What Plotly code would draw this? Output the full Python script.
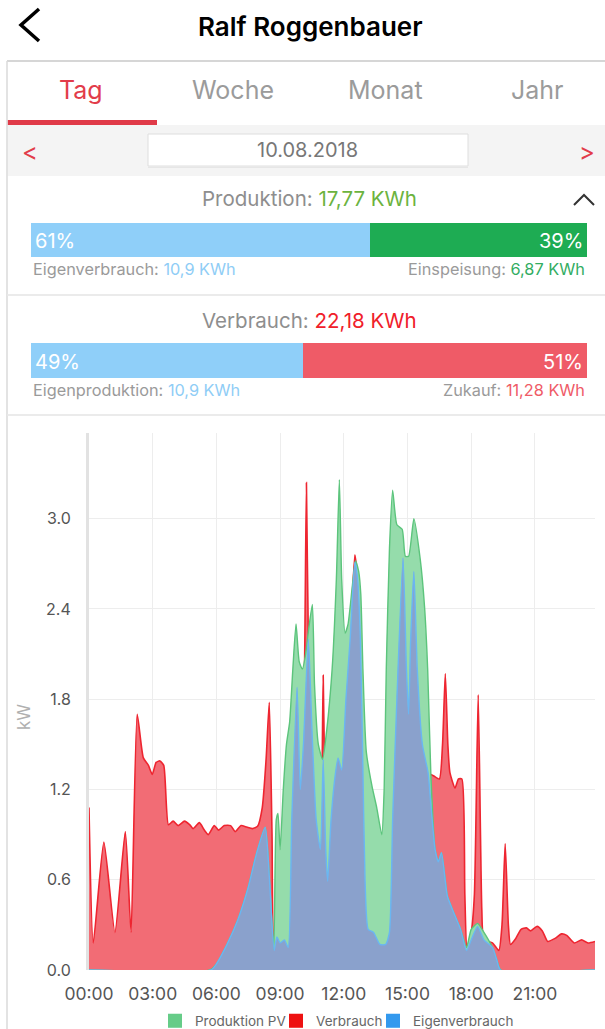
import plotly.graph_objects as go

# ---------------- data ----------------
W, H = 605, 1029
FONT = "Inter, Roboto, Arial, sans-serif"

person_name = "Ralf Roggenbauer"
tabs = ["Tag", "Woche", "Monat", "Jahr"]
date_label = "10.08.2018"

produktion_total = "17,77 KWh"
produktion_split = [61, 39]            # Eigenverbrauch %, Einspeisung %
produktion_parts = ["10,9 KWh", "6,87 KWh"]
verbrauch_total = "22,18 KWh"
verbrauch_split = [49, 51]             # Eigenproduktion %, Zukauf %
verbrauch_parts = ["10,9 KWh", "11,28 KWh"]

tick_hours = [0, 3, 6, 9, 12, 15, 18, 21]
tick_labels = ["00:00", "03:00", "06:00", "09:00", "12:00", "15:00", "18:00", "21:00"]
y_ticks = [0.0, 0.6, 1.2, 1.8, 2.4, 3.0]

legend_names = ["Produktion PV", "Verbrauch", "Eigenverbrauch"]
legend_colors = ["#66cc88", "#ee1111", "#3399ee"]

verbrauch_t = [0, 0.2, 0.7, 1.22, 1.71, 1.98, 2.27, 2.56, 2.8, 2.98, 3.16, 3.34, 3.52, 3.74,
               3.96, 4.2, 4.5, 4.75, 4.9, 5.2, 5.43, 5.62, 5.9, 6.1, 6.37, 6.67, 6.89, 7.16,
               7.43, 7.7, 7.94, 8.16, 8.34, 8.49, 8.62, 8.72, 8.85, 9.0, 9.2, 9.38, 9.55, 9.8,
               9.95, 10.1, 10.24, 10.33, 10.5, 10.7, 10.9, 11.03, 11.15, 11.24, 11.4, 11.6,
               11.73, 11.9, 12.1, 12.3, 12.52, 12.65, 12.78, 12.88, 13.0, 13.15, 13.4, 13.7,
               13.97, 14.15, 14.3, 14.5, 14.79, 14.95, 15.05, 15.15, 15.3, 15.46, 15.7, 15.97,
               16.24, 16.5, 16.65, 16.78, 16.9, 17.0, 17.24, 17.4, 17.56, 17.7, 17.8, 18.0,
               18.15, 18.33, 18.5, 18.6, 19.0, 19.3, 19.45, 19.6, 19.75, 19.85, 20.1, 20.35,
               20.6, 20.8, 21.1, 21.35, 21.6, 21.95, 22.25, 22.5, 22.85, 23.2, 23.5, 23.83]
verbrauch_kw = [1.08, 0.18, 0.85, 0.25, 0.92, 0.25, 1.70, 1.41, 1.36, 1.30, 1.38, 1.39, 1.36, 0.965,
                0.99, 0.96, 0.99, 0.965, 0.94, 0.98, 0.93, 0.90, 0.96, 0.93, 0.96, 0.96, 0.92, 0.96,
                0.95, 0.94, 0.955, 1.08, 1.40, 1.78, 0.9, 0.2, 0.22, 0.18, 0.2, 0.15, 1.0, 1.88,
                1.2, 1.5, 3.24, 2.2, 1.6, 1.0, 0.8, 1.96, 0.8, 0.59, 1.0, 1.3,
                1.41, 1.33, 1.8, 2.2, 2.76, 2.6, 2.2, 1.5, 0.6, 0.27, 0.25, 0.17,
                0.17, 0.25, 1.0, 1.8, 2.74, 2.0, 1.7, 2.2, 2.65, 2.0, 1.5, 1.31,
                1.29, 1.27, 1.5, 1.97, 1.5, 1.31, 1.21, 1.27, 1.27, 0.5, 0.15, 0.25,
                0.5, 1.83, 0.4, 0.2, 0.18, 0.13, 0.3, 0.84, 0.3, 0.17, 0.21, 0.27,
                0.28, 0.26, 0.29, 0.26, 0.19, 0.21, 0.24, 0.23, 0.18, 0.2, 0.18, 0.19]

pv_t = [0, 5.7, 6.0, 6.5, 7.0, 7.5, 7.9, 8.3, 8.5, 8.7, 8.82, 8.9, 9.0, 9.15, 9.3, 9.45, 9.6,
        9.75, 9.9, 10.05, 10.2, 10.33, 10.52, 10.62, 10.8, 11.0, 11.2, 11.45, 11.65, 11.79,
        11.9, 12.06, 12.2, 12.4, 12.55, 12.7, 12.8, 12.9, 13.06, 13.33, 13.55, 13.79, 13.9,
        14.0, 14.15, 14.3, 14.5, 14.75, 14.9, 15.05, 15.3, 15.6, 15.8, 15.95, 16.1, 16.3,
        16.45, 16.6, 16.88, 17.24, 17.5, 17.78, 18.0, 18.3, 18.6, 19.0, 19.2, 19.4, 23.83]
pv_kw = [0, 0, 0.04, 0.17, 0.33, 0.55, 0.78, 0.95, 0.6, 0.13, 1.0, 1.04, 0.8, 1.2, 1.5, 1.65, 2.0,
         2.3, 2.05, 2.0, 2.1, 2.25, 2.43, 1.9, 1.5, 1.4, 1.6, 2.0, 2.6, 3.26,
         2.6, 2.24, 2.3, 2.55, 2.72, 2.65, 2.5, 2.0, 1.45, 1.22, 1.08, 0.9, 1.2,
         2.0, 2.8, 3.19, 2.96, 2.93, 2.75, 2.75, 3.0, 2.73, 2.42, 2.0, 1.3, 0.8,
         0.72, 0.78, 0.49, 0.36, 0.27, 0.15, 0.27, 0.31, 0.25, 0.15, 0.07, 0, 0]

eigen_t = [0, 5.75, 6.0, 6.5, 7.0, 7.5, 7.9, 8.3, 8.5, 8.72, 8.85, 9.0, 9.2, 9.38, 9.55, 9.8,
           9.95, 10.1, 10.33, 10.5, 10.7, 10.9, 11.03, 11.15, 11.24, 11.4, 11.6, 11.73, 11.9,
           12.1, 12.3, 12.52, 12.65, 12.78, 12.88, 13.0, 13.15, 13.4, 13.7, 13.97, 14.15, 14.3,
           14.5, 14.79, 14.95, 15.05, 15.15, 15.3, 15.46, 15.7, 15.97, 16.1, 16.3, 16.45, 16.6,
           16.88, 17.24, 17.5, 17.78, 18.0, 18.3, 18.6, 19.0, 19.2, 19.38, 23.83]
eigen_kw = [0, 0, 0.04, 0.17, 0.33, 0.55, 0.78, 0.95, 0.6, 0.13, 0.22, 0.18, 0.2, 0.15, 1.0, 1.88,
            1.2, 1.5, 2.2, 1.6, 1.0, 0.8, 1.4, 0.8, 0.59, 1.0, 1.3, 1.41, 1.33,
            1.8, 2.2, 2.71, 2.6, 2.2, 1.5, 0.6, 0.27, 0.25, 0.17, 0.17, 0.25, 1.0,
            1.8, 2.74, 2.0, 1.7, 2.2, 2.65, 2.0, 1.5, 1.31, 1.1, 0.8, 0.72, 0.78,
            0.49, 0.36, 0.27, 0.13, 0.2, 0.29, 0.2, 0.15, 0.07, 0, 0]

# ---------------- helpers ----------------
def X(px):
    return px / W

def Y(py):
    return 1 - py / H

RED = "#e23c4a"
GRAY_TXT = "#8e8e8e"

fig = go.Figure()

# ---------------- main area chart ----------------
SM = 0.55
fig.add_trace(go.Scatter(x=verbrauch_t, y=verbrauch_kw, mode="lines", fill="tozeroy",
                         line=dict(color="#ee2530", width=1.6, shape="spline", smoothing=SM),
                         fillcolor="#f26c75", showlegend=False, hoverinfo="skip"))
fig.add_trace(go.Scatter(x=pv_t, y=pv_kw, mode="lines", fill="tozeroy",
                         line=dict(color="#5cc47c", width=1.4, shape="spline", smoothing=SM),
                         fillcolor="#95dcab", showlegend=False, hoverinfo="skip"))
fig.add_trace(go.Scatter(x=eigen_t, y=eigen_kw, mode="lines", fill="tozeroy",
                         line=dict(color="#6ab6f2", width=1.4, shape="spline", smoothing=SM),
                         fillcolor="#8aa1cc", showlegend=False, hoverinfo="skip"))

# legend entries (square swatches)
legend_widths = [76, 52, 100]
for name, col, lw in zip(legend_names, legend_colors, legend_widths):
    fig.add_trace(go.Scatter(x=[None], y=[None], mode="markers", name=name, legendwidth=lw,
                             marker=dict(symbol="square", size=14, color=col)))

# ---------------- percentage bars ----------------
bar1_cols = ["#8fcff9", "#1eac53"]
bar2_cols = ["#8fcff9", "#ef5b67"]
for val, col in zip(produktion_split, bar1_cols):
    fig.add_trace(go.Bar(x=[val], y=[0], orientation="h", marker=dict(color=col, line=dict(width=0)),
                         width=1, xaxis="x2", yaxis="y2", showlegend=False, hoverinfo="skip"))
for val, col in zip(verbrauch_split, bar2_cols):
    fig.add_trace(go.Bar(x=[val], y=[0], orientation="h", marker=dict(color=col, line=dict(width=0)),
                         width=1, xaxis="x3", yaxis="y3", showlegend=False, hoverinfo="skip"))

hidden = dict(visible=False, fixedrange=True)

fig.update_layout(
    width=W, height=H,
    margin=dict(l=0, r=0, t=0, b=0, autoexpand=False),
    paper_bgcolor="white", plot_bgcolor="white",
    font=dict(family=FONT),
    barmode="stack", bargap=0,
    xaxis=dict(domain=[X(89), X(595)], range=[0, 23.83], tickvals=tick_hours, ticktext=tick_labels,
               showgrid=True, gridcolor="#ededed", gridwidth=1, zeroline=False, showline=False,
               ticks="", tickfont=dict(size=17.5, color="#555555", family=FONT),
               ticklabelstandoff=11, fixedrange=True, automargin=False),
    yaxis=dict(domain=[Y(970), Y(433)], range=[0, 3.57], tickvals=y_ticks,
               tickformat=".1f", showgrid=True, gridcolor="#ededed", gridwidth=1, zeroline=False,
               showline=True, linecolor="#e2e2e2", linewidth=3, ticks="",
               tickfont=dict(size=16, color="#555555", family=FONT), ticklabelstandoff=12,
               fixedrange=True, automargin=False),
    xaxis2=dict(domain=[X(31), X(587)], range=[0, 100], anchor="y2", **hidden),
    yaxis2=dict(domain=[Y(257), Y(223)], range=[-0.5, 0.5], anchor="x2", **hidden),
    xaxis3=dict(domain=[X(31), X(587)], range=[0, 100], anchor="y3", **hidden),
    yaxis3=dict(domain=[Y(378), Y(343)], range=[-0.5, 0.5], anchor="x3", **hidden),
    legend=dict(orientation="h", x=X(155), xanchor="left", y=Y(1021), yanchor="middle",
                font=dict(size=13.5, color="#666666", family=FONT), itemwidth=30,
                bgcolor="rgba(0,0,0,0)", traceorder="normal"),
)

shapes = []
ann = []

def line(x0, y0, x1, y1, color, width):
    shapes.append(dict(type="line", xref="paper", yref="paper", x0=X(x0), y0=Y(y0), x1=X(x1), y1=Y(y1),
                       line=dict(color=color, width=width)))

def rect(x0, y0, x1, y1, fill, lc=None, lw=0):
    shapes.append(dict(type="rect", xref="paper", yref="paper", x0=X(x0), y0=Y(y0), x1=X(x1), y1=Y(y1),
                       fillcolor=fill, line=dict(color=lc or fill, width=lw), layer="below"))

def path(points, color, width):
    d = "M " + " L ".join(f"{X(px):.5f},{Y(py):.5f}" for px, py in points)
    shapes.append(dict(type="path", xref="paper", yref="paper", path=d, line=dict(color=color, width=width)))

def text(px, py, s, size, color, anchor="center", weight=None, angle=0):
    f = dict(size=size, color=color, family=FONT)
    if weight:
        f["weight"] = weight
    ann.append(dict(xref="paper", yref="paper", x=X(px), y=Y(py), text=s, showarrow=False,
                    xanchor=anchor, yanchor="middle", font=f, textangle=angle))

# header
path([(39, 9), (21, 25), (39, 41)], "#000000", 3.5)
text(310, 27, person_name, 26, "#000000", weight=600)
line(7, 61, 605, 61, "#c8c8c8", 1.5)
line(7, 61, 7, H, "#dadada", 1.5)

# tabs
tab_x = [81, 233, 385, 537]
for i, (t, tx) in enumerate(zip(tabs, tab_x)):
    text(tx, 90, t, 25, RED if i == 0 else "#9b9b9b")
rect(7.5, 120, 157, 125, "#e03a48")

# date bar
rect(7.5, 125, 605, 176, "#f4f4f4")
rect(148, 167, 468, 168, "#e6e6e6")
rect(148, 134, 468, 166, "#ffffff", "#dedede", 1)
text(308, 150, date_label, 20, "#777777")
text(30, 151, "&lt;", 24, RED)
text(587, 151, "&gt;", 24, RED)

# Produktion block
text(309, 198, f"Produktion: <span style='color:#6cb33e'>{produktion_total}</span>", 20.5, GRAY_TXT)
path([(574, 205), (584, 195), (594, 205)], "#333333", 2)
text(33, 241, f"{produktion_split[0]}%", 20, "#ffffff", anchor="left")
text(585, 241, f"{produktion_split[1]}%", 20, "#ffffff", anchor="right")
text(31, 269, f"Eigenverbrauch: <span style='color:#8fcdf6'>{produktion_parts[0]}</span>", 16.3, "#9a9a9a", anchor="left")
text(587, 269, f"Einspeisung: <span style='color:#33ad62'>{produktion_parts[1]}</span>", 16.3, "#9a9a9a", anchor="right")
line(7.5, 295, 605, 295, "#ebebeb", 2)

# Verbrauch block
text(309, 320, f"Verbrauch: <span style='color:#f0202a'>{verbrauch_total}</span>", 20.5, GRAY_TXT)
text(33, 362, f"{verbrauch_split[0]}%", 20, "#ffffff", anchor="left")
text(585, 362, f"{verbrauch_split[1]}%", 20, "#ffffff", anchor="right")
text(31, 390, f"Eigenproduktion: <span style='color:#8fcdf6'>{verbrauch_parts[0]}</span>", 16.3, "#9a9a9a", anchor="left")
text(587, 390, f"Zukauf: <span style='color:#ef5b67'>{verbrauch_parts[1]}</span>", 16.3, "#9a9a9a", anchor="right")
line(7.5, 415, 605, 415, "#ebebeb", 2)

# y axis title
text(24, 717, "kW", 17, "#b0b0b0", angle=-90)

fig.update_layout(shapes=shapes, annotations=ann)

fig.write_html("out.html", config={"displayModeBar": False, "staticPlot": True},
               post_script="document.body.style.margin='0';document.body.style.overflow='hidden';")
